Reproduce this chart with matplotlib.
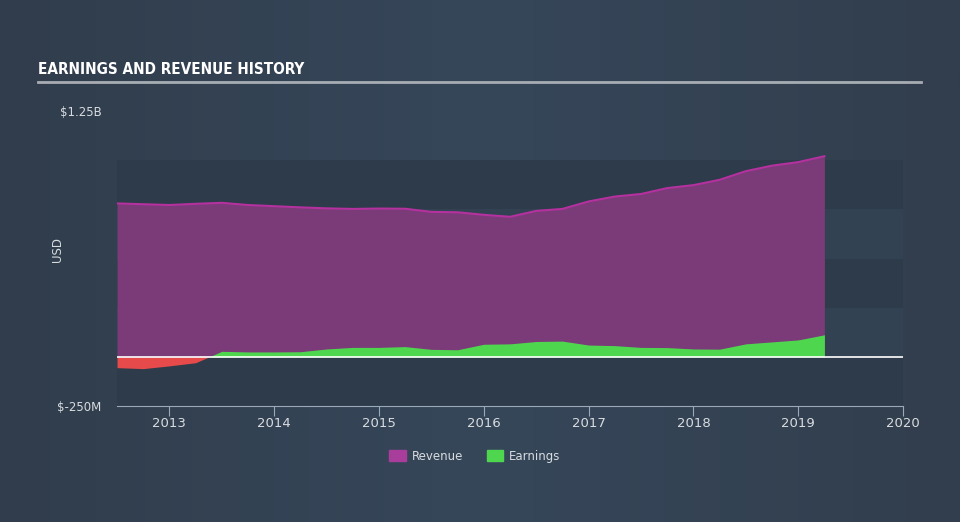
import numpy as np
import matplotlib.pyplot as plt
from matplotlib.patches import Patch
from matplotlib.colors import LinearSegmentedColormap

# quarterly values, millions USD
dates = [2012.50, 2012.75, 2013.00, 2013.25, 2013.50, 2013.75, 2014.00, 2014.25,
         2014.50, 2014.75, 2015.00, 2015.25, 2015.50, 2015.75, 2016.00, 2016.25,
         2016.50, 2016.75, 2017.00, 2017.25, 2017.50, 2017.75, 2018.00, 2018.25,
         2018.50, 2018.75, 2019.00, 2019.25]
revenue = [780, 776, 772, 778, 783, 772, 766, 760,
           755, 752, 754, 753, 737, 735, 722, 712,
           742, 752, 790, 815, 828, 858, 873, 900,
           944, 972, 990, 1020]
earnings = [-55, -60, -46, -30, 28, 25, 25, 26,
            40, 48, 48, 52, 38, 36, 64, 66,
            78, 80, 60, 57, 48, 47, 40, 39,
            66, 76, 86, 112]
year_ticks = [2013, 2014, 2015, 2016, 2017, 2018, 2019, 2020]

x = np.array(dates)
rev = np.array(revenue)
earn = np.array(earnings)

bg = '#344456'
fig = plt.figure(figsize=(9.6, 5.22), dpi=100, facecolor=bg)

# soft horizontal gradient behind everything
bgax = fig.add_axes([0, 0, 1, 1], zorder=-10)
cmap = LinearSegmentedColormap.from_list('bg', ['#313d4c', '#36475a', '#323e4d'], N=2048)
bgax.imshow(np.linspace(0, 1, 960)[None, :], aspect='auto', cmap=cmap, extent=[0, 1, 0, 1],
            interpolation='bilinear')
bgax.axis('off')

ax = fig.add_axes([117/960, 1-406/522, 786/960, (406-111)/522])
ax.set_facecolor('none')

# background bands
band_cols = ['#2e3b4b', '#334252', '#2e3b4b', '#334252', '#2e3b4b']
for i, lo in enumerate([-250, 0, 250, 500, 750]):
    ax.axhspan(lo, lo + 250, color=band_cols[i], lw=0, zorder=0)

ax.fill_between(x, 0, rev, color='#7b3a78', lw=0, zorder=1)
ax.plot(x, rev, color='#b4319f', lw=1.5, zorder=2)
ax.fill_between(x, 0, earn, where=earn >= 0, interpolate=True, color='#4fd64f', lw=0, zorder=3)
ax.fill_between(x, 0, earn, where=earn <= 0, interpolate=True, color='#e64a4a', lw=0, zorder=3)
ax.axhline(0, color='white', lw=1.2, zorder=4)

ax.set_xlim(2012.5, 2020.0)
ax.set_ylim(-250, 1250)
for s in ['top', 'right', 'left']:
    ax.spines[s].set_visible(False)
ax.spines['bottom'].set_color('#9aa8b8')
ax.set_xticks(year_ticks)
ax.set_xticklabels([str(y) for y in year_ticks])
ax.tick_params(axis='x', colors='#9aa8b8', labelcolor='#d8dce0', length=7, labelsize=9.5, pad=1)
ax.set_yticks([-250, 1250])
ax.set_yticklabels(['$-250M', '$1.25B'])
ax.tick_params(axis='y', length=0, labelcolor='#d8dce0', labelsize=8.5, pad=11)

fig.text(58/960, 1-250/522, 'USD', color='#d8dce0', fontsize=8.5, rotation=90,
         ha='center', va='center')

fig.text(38/960, 1-74/522, 'EARNINGS AND REVENUE HISTORY', color='white', fontsize=11,
         fontweight='bold', fontstretch='condensed', family='DejaVu Sans', va='baseline')
fig.add_artist(plt.Line2D([38/960, 921/960], [1-82/522, 1-82/522], color='#a8adb3', lw=2))

handles = [Patch(color='#a83d9c', label='Revenue'), Patch(color='#4fd64f', label='Earnings')]
leg = fig.legend(handles=handles, loc='center', bbox_to_anchor=(475/960, 1-456/522), ncol=2,
                 frameon=False, fontsize=8.5, handlelength=1.4, handleheight=1.1, columnspacing=2.0,
                 handletextpad=0.5)
for t in leg.get_texts():
    t.set_color('#d8dce0')

fig.savefig('out.png', dpi=100)
